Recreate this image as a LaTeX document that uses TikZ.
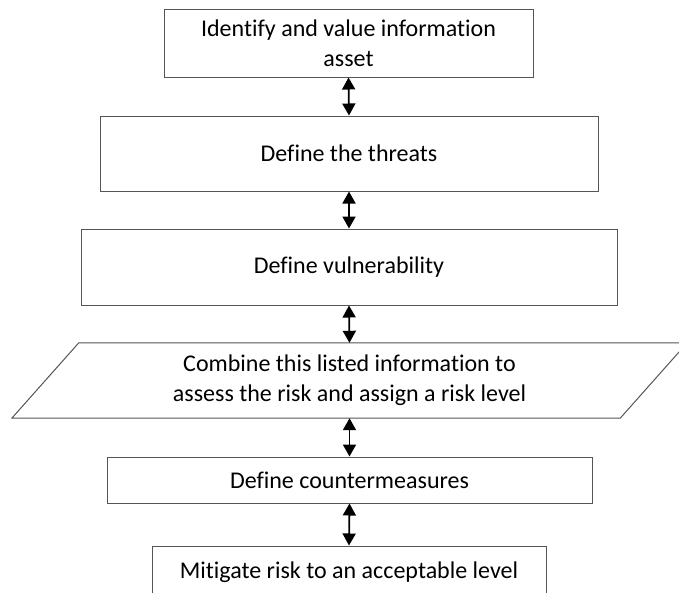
\documentclass[tikz,border=0pt]{standalone}
\usepackage{fontspec}
\setmainfont{Carlito}[Ligatures=NoCommon]
\usetikzlibrary{arrows.meta}
\definecolor{boxline}{RGB}{85,85,85}

\begin{document}
\begin{tikzpicture}[x=1pt,y=-1pt]
\useasboundingbox (0,0) rectangle (679,592);
\clip (0,0) rectangle (679,592);
\tikzset{
  steptext/.style={align=center, font=\fontsize{24}{30}\selectfont, inner sep=0pt},
  box/.style={steptext, draw=boxline, line width=1pt, fill=white},
  link/.style={{Triangle[width=13pt,length=12pt]}-{Triangle[width=13pt,length=12pt]},
               line width=1.8pt, black}
}

% process steps
\node[box, minimum width=369pt, minimum height=68pt] (n1) at (348.5,43)
  {Identify and value information\\asset};
\node[box, minimum width=498pt, minimum height=75pt] (n2) at (349,153.5)
  {Define the threats};
\node[box, minimum width=536pt, minimum height=76pt] (n3) at (349,267)
  {Define vulnerability};

% data step: slanted box with its text
\node[steptext, minimum width=407pt, minimum height=75pt] (n4) at (349.5,380.5)
  {Combine this listed information to\\assess the risk and assign a risk level};
\draw[boxline, line width=1pt]
  ([xshift=-67pt]n4.north west) -- ([xshift=134pt]n4.north east)
  -- ([xshift=67pt]n4.south east) -- ([xshift=-134pt]n4.south west) -- cycle;

\node[box, minimum width=485pt, minimum height=46pt] (n5) at (349.5,480)
  {Define countermeasures};
\node[box, minimum width=394pt, minimum height=52pt] (n6) at (349,572)
  {Mitigate risk to an acceptable level};

% two-way links between steps
\draw[link] (n1.south) -- (n2.north);
\draw[link] (n2.south) -- (n3.north);
\draw[link] (n3.south) -- (n4.north);
\draw[link] (n4.south) -- (n5.north);
\draw[link] (n5.south) -- (n6.north);
\end{tikzpicture}
\end{document}
